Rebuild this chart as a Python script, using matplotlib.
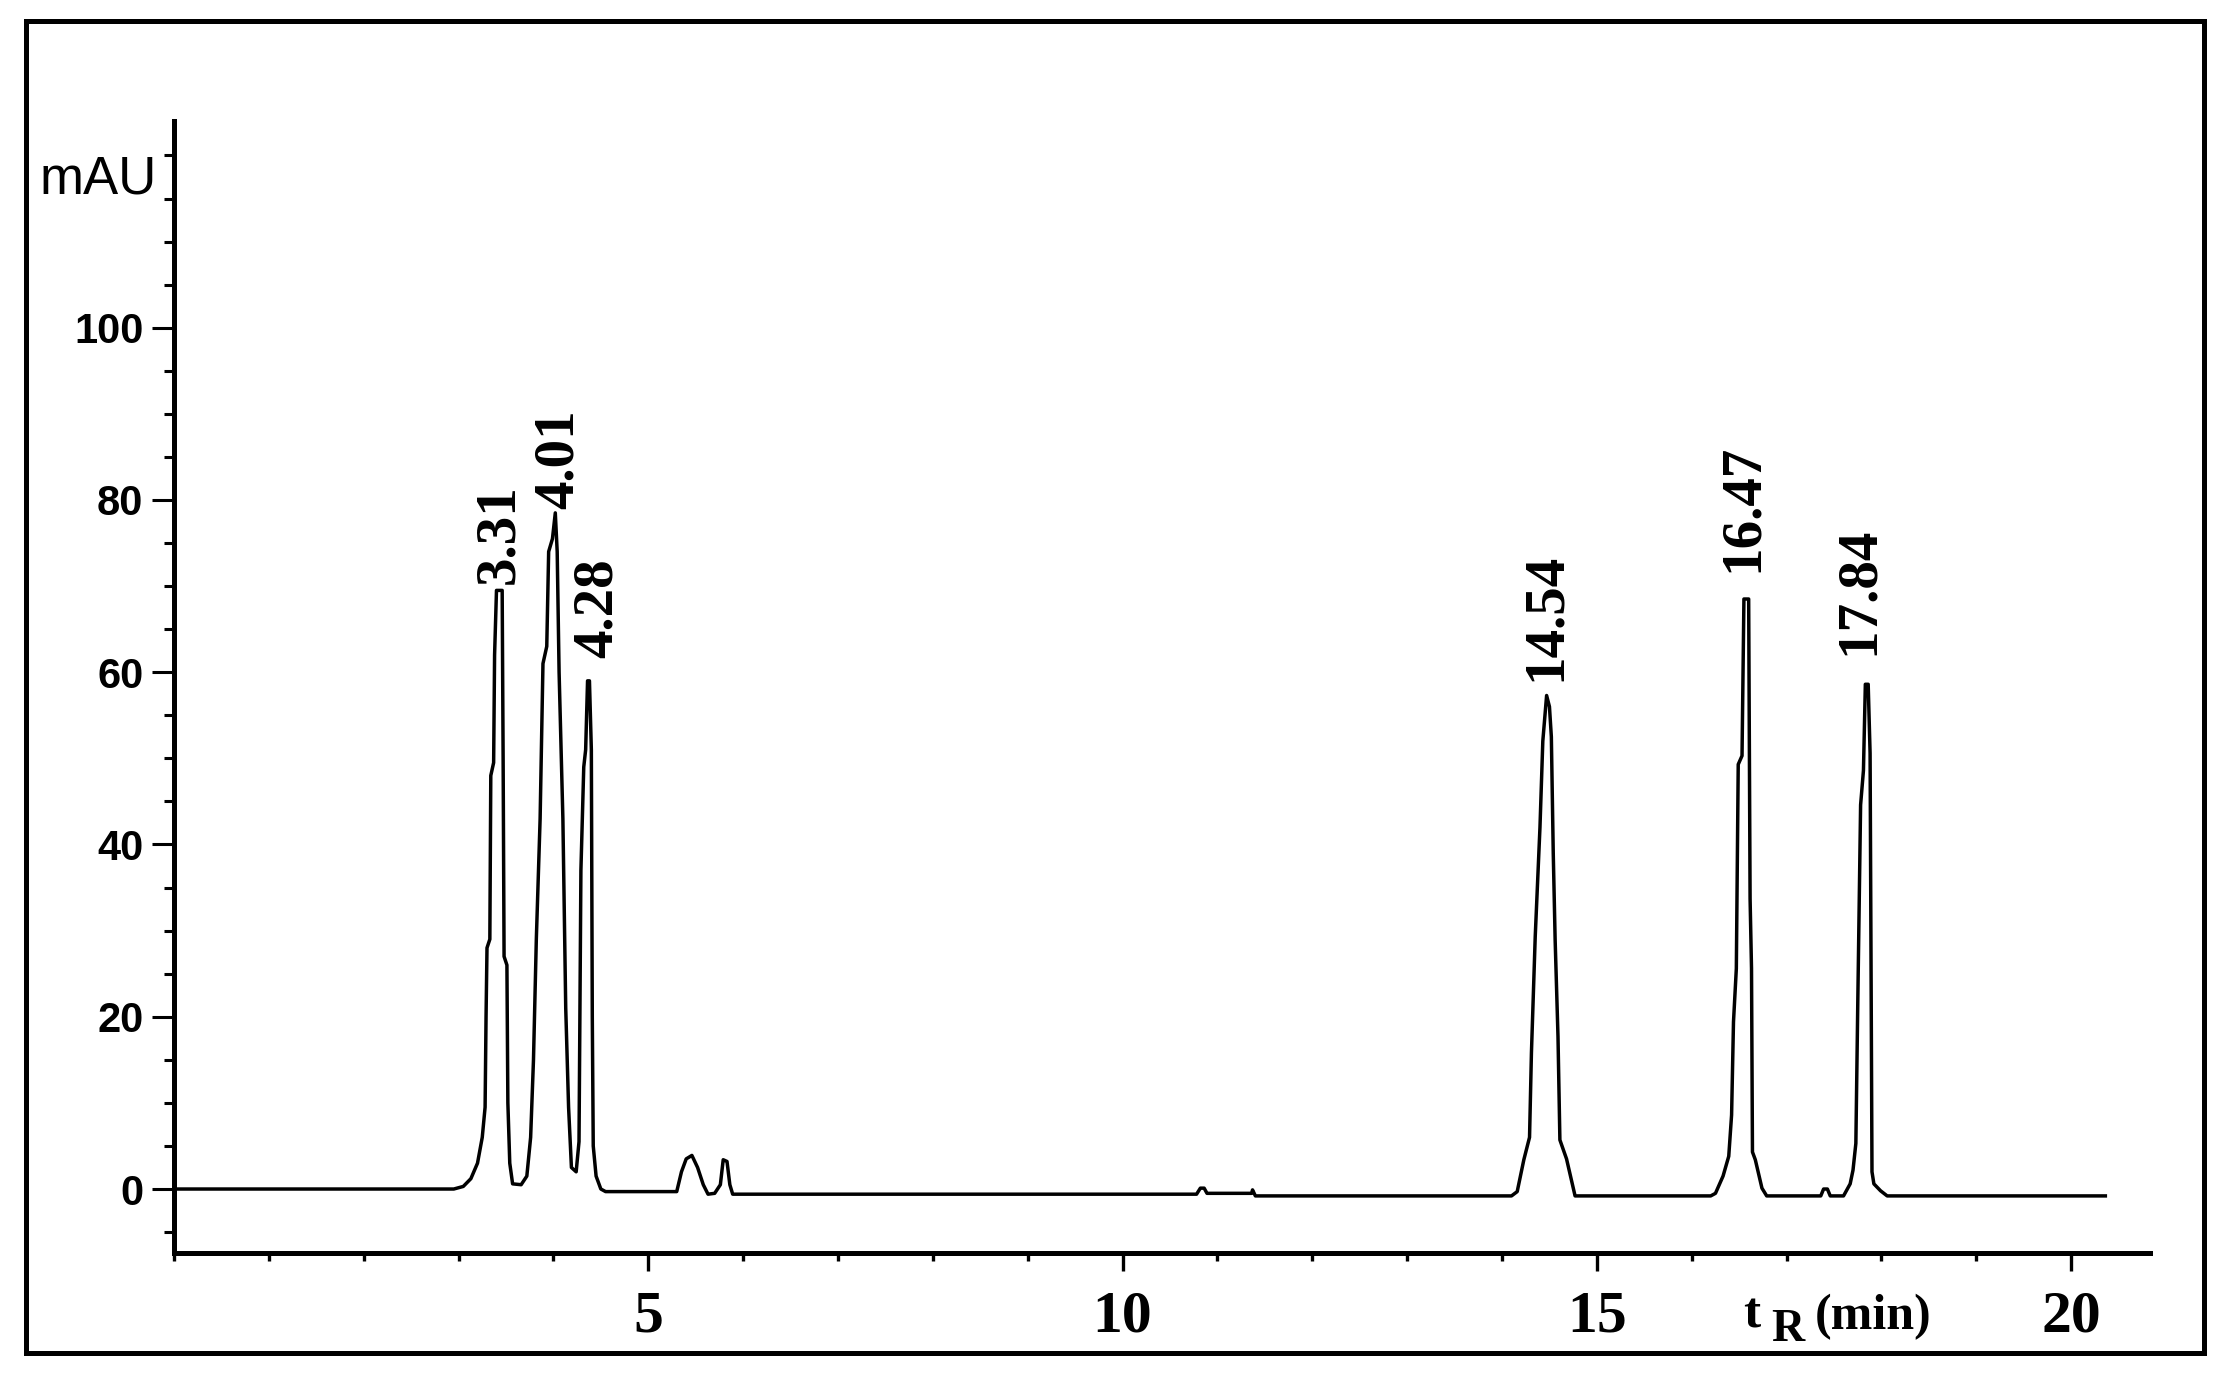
import matplotlib.pyplot as plt
from matplotlib.patches import Rectangle
from matplotlib.ticker import MultipleLocator

# chromatogram trace (time in min, signal in mAU)
time_min = [0.00, 2.95, 3.05, 3.13, 3.20, 3.25, 3.28, 3.29, 3.30, 3.33, 3.34, 3.37,
            3.38, 3.40, 3.46, 3.47, 3.48, 3.51, 3.52, 3.54, 3.57, 3.66, 3.72, 3.76,
            3.79, 3.82, 3.86, 3.89, 3.93, 3.95, 3.99, 4.02, 4.04, 4.06, 4.10, 4.13,
            4.16, 4.19, 4.24, 4.27, 4.29, 4.32, 4.34, 4.36, 4.38, 4.40, 4.41, 4.42,
            4.45, 4.50, 4.55, 5.30, 5.35, 5.40, 5.46, 5.52, 5.58, 5.63, 5.70, 5.76,
            5.79, 5.83, 5.86, 5.89, 10.78, 10.82, 10.86, 10.89, 11.36, 11.37, 11.40,
            14.10, 14.16, 14.23, 14.29, 14.31, 14.35, 14.40, 14.43, 14.47, 14.50,
            14.52, 14.54, 14.56, 14.59, 14.61, 14.68, 14.77, 16.20, 16.25, 16.33,
            16.39, 16.42, 16.44, 16.47, 16.49, 16.53, 16.55, 16.60, 16.615, 16.63,
            16.64, 16.67, 16.74, 16.79, 17.36, 17.39, 17.43, 17.46, 17.60, 17.67,
            17.70, 17.73, 17.75, 17.78, 17.81, 17.83, 17.86, 17.88, 17.90, 17.92,
            17.99, 18.06, 20.36]
signal_mau = [0.0, 0.0, 0.3, 1.2, 3.0, 6.0, 9.5, 20.0, 28.0, 29.0, 48.0, 49.5,
              62.0, 69.5, 69.5, 50.0, 27.0, 26.0, 10.0, 3.0, 0.6, 0.5, 1.5, 6.0,
              15.0, 29.0, 43.0, 61.0, 63.0, 74.0, 75.5, 78.5, 74.0, 60.0, 43.0, 21.0,
              9.5, 2.5, 2.0, 5.5, 37.0, 49.0, 51.0, 59.0, 59.0, 51.0, 20.0, 5.0,
              1.5, 0.0, -0.3, -0.3, 2.0, 3.5, 3.9, 2.5, 0.5, -0.6, -0.5, 0.5,
              3.4, 3.2, 0.5, -0.6, -0.6, 0.1, 0.1, -0.5, -0.5, -0.1, -0.8,
              -0.8, -0.3, 3.4, 6.0, 15.8, 29.3, 42.0, 52.0, 57.3, 56.0,
              52.5, 39.0, 28.9, 17.7, 5.7, 3.5, -0.8, -0.8, -0.5, 1.5,
              3.8, 8.6, 19.4, 25.6, 49.3, 50.3, 68.5, 68.5, 33.7, 25.6,
              4.3, 3.4, 0.1, -0.8, -0.8, 0.0, 0.0, -0.8, -0.8, 0.6,
              2.2, 5.3, 21.4, 44.6, 48.6, 58.6, 58.6, 50.6, 2.0, 0.6,
              -0.2, -0.8, -0.8]

# labelled peaks: retention time text, apex position
peak_labels = ['3.31', '4.01', '4.28', '14.54', '16.47', '17.84']
peak_apex_t = [3.43, 4.02, 4.37, 14.47, 16.58, 17.85]
peak_apex_h = [69.5, 78.5, 59.0, 57.3, 68.5, 58.6]
# label offsets (layout only)
label_dx = [0.0, 0.04, 0.10, -0.01, -0.04, -0.09]
label_dy = [0.8, 0.4, 2.6, 1.7, 3.1, 3.4]

fig = plt.figure(figsize=(22.33, 13.78), dpi=100)
ax = fig.add_axes([0.0779, 0.0907, 0.8849, 0.8215])

ax.plot(time_min, signal_mau, color='black', linewidth=2.5)

for lab, t, h, dx, dy in zip(peak_labels, peak_apex_t, peak_apex_h, label_dx, label_dy):
    ax.text(t + dx, h + dy, lab, rotation=90, ha='center', va='bottom',
            fontsize=41, fontweight='bold', family='Liberation Serif')

ax.set_xlim(0, 20.83)
ax.set_ylim(-7.43, 124.0)

for side in ['top', 'right']:
    ax.spines[side].set_visible(False)
for side in ['left', 'bottom']:
    ax.spines[side].set_linewidth(3.6)

ax.xaxis.set_major_locator(MultipleLocator(5))
ax.xaxis.set_minor_locator(MultipleLocator(1))
ax.yaxis.set_major_locator(MultipleLocator(20))
ax.yaxis.set_minor_locator(MultipleLocator(5))
ax.set_xticks([5, 10, 15, 20])
ax.set_yticks([0, 20, 40, 60, 80, 100])

ax.tick_params(axis='x', which='major', direction='out', length=13, width=2.4, pad=14)
ax.tick_params(axis='x', which='minor', direction='out', length=6, width=2.4)
ax.tick_params(axis='y', which='major', direction='out', length=16, width=2.2, pad=6)
ax.tick_params(axis='y', which='minor', direction='out', length=7, width=2.2)

for lbl in ax.get_xticklabels():
    lbl.set_family('Liberation Serif')
    lbl.set_fontweight('bold')
    lbl.set_fontsize(43)
for lbl in ax.get_yticklabels():
    lbl.set_family('Liberation Sans')
    lbl.set_fontweight('bold')
    lbl.set_fontsize(30)

fig.text(157 / 2233, 1 - 193 / 1378, 'mAU', ha='right', va='baseline',
         fontsize=38, family='Liberation Sans')

# x axis title t_R (min)
fig.text(1743 / 2233, 1 - 1327 / 1378, 't', ha='left', va='baseline',
         fontsize=37, fontweight='bold', family='Liberation Serif')
fig.text(1771 / 2233, 1 - 1341 / 1378, 'R', ha='left', va='baseline',
         fontsize=33, fontweight='bold', family='Liberation Serif')
fig.text(1815 / 2233, 1 - 1329 / 1378, '(min)', ha='left', va='baseline',
         fontsize=36, fontweight='bold', family='Liberation Serif')

# outer frame
fig.patches.append(Rectangle((26 / 2233, 25 / 1378), 2178 / 2233, 1332 / 1378,
                             transform=fig.transFigure, fill=False,
                             edgecolor='black', linewidth=3.6))

fig.savefig('out.png', dpi=100, facecolor='white')
